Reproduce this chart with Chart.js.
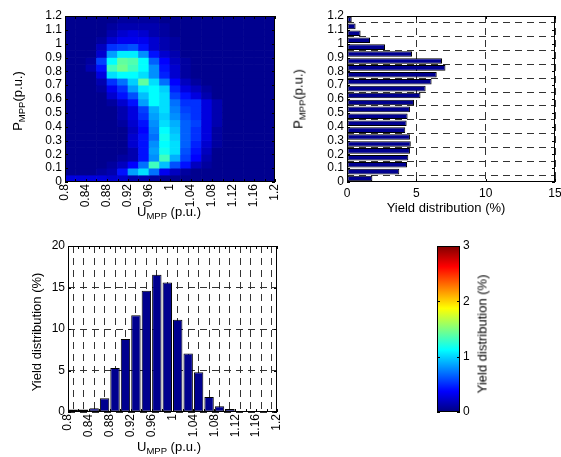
<!DOCTYPE html>
<html><head><meta charset="utf-8">
<script src="https://cdn.jsdelivr.net/npm/chart.js@4.4.1/dist/chart.umd.min.js"></script>
<style>
html,body{margin:0;padding:0;background:#fff;}
#page{position:relative;width:561px;height:457px;overflow:hidden;font-family:"Liberation Sans",Arial,Helvetica,sans-serif;background:#fff;}
.box{position:absolute;}
.lbl{position:absolute;font-size:13px;color:#000;white-space:nowrap;line-height:13px;}
.lbl sub{font-size:9.5px;vertical-align:-3px;line-height:0;}
.rot{transform:translate(-50%,-50%) rotate(-90deg);}
.hor{transform:translate(-50%,-50%);}
</style></head>
<body><div id="page">
<div class="box" style="left:0;top:0;width:280px;height:230px"><canvas id="c1"></canvas></div>
<div class="box" style="left:280px;top:0;width:281px;height:230px"><canvas id="c2"></canvas></div>
<div class="box" style="left:0;top:230px;width:300px;height:227px"><canvas id="c3"></canvas></div>
<div class="box" style="left:400px;top:230px;width:100px;height:227px"><canvas id="c4"></canvas></div>
<div class="lbl rot" style="left:17px;top:101px">P<sub>MPP</sub>(p.u.)</div>
<div class="lbl hor" style="left:169px;top:211px">U<sub>MPP</sub> (p.u.)</div>
<div class="lbl rot" style="left:298px;top:99px">P<sub>MPP</sub>(p.u.)</div>
<div class="lbl hor" style="left:446px;top:207px">Yield distribution (%)</div>
<div class="lbl rot" style="left:36px;top:332px">Yield distribution (%)</div>
<div class="lbl hor" style="left:169px;top:446px">U<sub>MPP</sub> (p.u.)</div>
<div class="lbl rot" style="left:482px;top:334px">Yield distribution (%)</div>
</div>
<script>
// ---------------- data ----------------
const uCenters = [0.81,0.83,0.85,0.87,0.89,0.91,0.93,0.95,0.97,0.99,1.01,1.03,1.05,1.07,1.09,1.11,1.13,1.15,1.17,1.19];
const uBinWidth = 0.02;
const pCenters = [0.025,0.075,0.125,0.175,0.225,0.275,0.325,0.375,0.425,0.475,0.525,0.575,0.625,0.675,0.725,0.775,0.825,0.875,0.925,0.975,1.025,1.075,1.125,1.175];
const pBinWidth = 0.05;
// yield distribution (%) versus P_MPP bin (same order as pCenters)
const pYield = [1.83,3.77,4.33,4.42,4.54,4.6,4.54,4.2,4.3,4.37,4.54,4.83,5.3,5.67,6.1,6.47,7.1,6.85,4.69,2.74,1.66,0.98,0.62,0.34];
// yield distribution (%) versus U_MPP bin (same order as uCenters)
const uYield = [0.3,0.3,0.45,1.65,5.3,8.8,11.65,14.6,16.55,15.6,11.1,7.05,4.8,1.8,0.7,0.35,0.08,0,0,0];
// joint yield distribution (%), rows from top (P 1.175) to bottom (P 0.025), columns as uCenters
const heatRowsTopDown = [
 [0,0,0,0,0.03,0.05,0.06,0.07,0.06,0.04,0.02,0,0,0,0,0,0,0,0,0],
 [0,0,0,0,0.06,0.10,0.12,0.12,0.10,0.07,0.04,0,0,0,0,0,0,0,0,0],
 [0,0,0,0.02,0.12,0.20,0.24,0.20,0.12,0.05,0.03,0,0,0,0,0,0,0,0,0],
 [0,0,0,0.08,0.22,0.30,0.32,0.30,0.20,0.12,0.08,0.04,0,0,0,0,0,0,0,0],
 [0,0,0.02,0.15,0.50,0.55,0.60,0.40,0.22,0.13,0.08,0.04,0,0,0,0,0,0,0,0],
 [0,0,0.03,0.20,0.80,1.05,1.05,0.75,0.40,0.20,0.10,0.04,0,0,0,0,0,0,0,0],
 [0,0.02,0.08,0.55,1.12,1.38,1.32,1.08,0.65,0.35,0.17,0.07,0.02,0,0,0,0,0,0,0],
 [0,0,0.10,0.40,1.30,1.42,1.28,1.12,0.75,0.38,0.20,0.08,0.03,0,0,0,0,0,0,0],
 [0,0,0.04,0.25,1.03,1.12,1.08,1.00,0.75,0.45,0.22,0.07,0.02,0,0,0,0,0,0,0],
 [0,0,0,0.12,0.47,0.70,0.94,1.36,1.03,0.70,0.35,0.17,0.07,0.03,0,0,0,0,0,0],
 [0,0,0,0.08,0.30,0.50,0.80,1.05,1.10,0.95,0.45,0.28,0.15,0.06,0.02,0,0,0,0,0],
 [0,0,0,0.03,0.22,0.42,0.60,0.90,1.08,1.00,0.55,0.38,0.26,0.12,0.04,0,0,0,0,0],
 [0,0,0,0,0.05,0.19,0.42,0.80,1.08,0.99,0.70,0.50,0.47,0.25,0.10,0.03,0,0,0,0],
 [0,0,0,0,0.02,0.14,0.28,0.56,0.89,0.99,0.72,0.56,0.50,0.26,0.10,0.03,0,0,0,0],
 [0,0,0,0,0.02,0.10,0.24,0.47,0.80,0.94,0.78,0.60,0.50,0.26,0.10,0.03,0,0,0,0],
 [0,0,0,0,0.02,0.08,0.19,0.42,0.75,1.03,0.85,0.61,0.52,0.26,0.10,0.03,0,0,0,0],
 [0,0,0,0,0,0.04,0.17,0.36,0.72,1.10,0.90,0.62,0.50,0.24,0.08,0.03,0,0,0,0],
 [0,0,0,0,0,0.04,0.19,0.38,0.70,1.17,0.96,0.62,0.47,0.24,0.06,0.02,0,0,0,0],
 [0,0,0,0,0,0.04,0.19,0.40,0.75,1.08,1.03,0.61,0.45,0.20,0.05,0.02,0,0,0,0],
 [0,0,0,0,0,0.04,0.14,0.40,0.80,1.17,0.99,0.58,0.40,0.17,0.04,0.02,0,0,0,0],
 [0,0,0,0,0,0.05,0.14,0.42,0.75,1.31,0.85,0.52,0.33,0.14,0.04,0.02,0,0,0,0],
 [0,0,0,0.02,0.06,0.15,0.33,0.66,1.27,0.90,0.60,0.38,0.17,0.05,0.02,0,0,0,0,0],
 [0.02,0.02,0.03,0.05,0.14,0.40,0.80,1.03,0.70,0.30,0.15,0.08,0.03,0.02,0,0,0,0,0,0],
 [0.25,0.25,0.26,0.26,0.20,0.20,0.14,0.10,0.07,0.04,0.03,0.02,0.01,0,0,0,0,0,0,0]
];
const colorMax = 3;
const cbTicks = [0,1,2,3];

// ---------------- helpers ----------------
Chart.defaults.font.family = '"Liberation Sans", Arial, Helvetica, sans-serif';
Chart.defaults.font.size = 12;
Chart.defaults.color = '#000';
Chart.defaults.animation = false;
Chart.defaults.plugins.legend.display = false;
Chart.defaults.plugins.tooltip.enabled = false;
Chart.defaults.responsive = true;
Chart.defaults.maintainAspectRatio = false;

const fmt = v => String(parseFloat(Number(v).toFixed(2)));
const clamp = x => Math.max(0, Math.min(1, x));
function jetRGB(t){
  return [clamp(1.5-Math.abs(4*t-3)), clamp(1.5-Math.abs(4*t-2)), clamp(1.5-Math.abs(4*t-1))];
}
function jetColor(v){
  const t = clamp(v/colorMax);
  const idx = Math.min(63, Math.floor(t*64));
  const c = jetRGB((idx+1)/64);
  return 'rgb(' + c.map(x=>Math.round(x*255)).join(',') + ')';
}
const barFill = jetColor(0);

const fitX = h => s => { s.height = h; s.paddingLeft = 0; s.paddingRight = 0; };
const fitY = w => s => { s.width = w; s.paddingTop = 0; s.paddingBottom = 0; };

const boxPlugin = {
  id: 'box',
  afterDatasetsDraw(chart, args, opts){
    const {ctx, chartArea:a} = chart;
    const L = 3;
    ctx.save();
    ctx.setLineDash([]);
    ctx.strokeStyle = '#000';
    ctx.lineWidth = 1;
    ctx.beginPath();
    if (opts.xTicks !== false) {
      const xs = chart.scales.x;
      xs.ticks.forEach(t => {
        const p = Math.round(xs.getPixelForValue(t.value)) + 0.5;
        ctx.moveTo(p, a.bottom); ctx.lineTo(p, a.bottom - L);
        ctx.moveTo(p, a.top); ctx.lineTo(p, a.top + L);
      });
    }
    const ys = chart.scales.y;
    ys.ticks.forEach(t => {
      const p = Math.round(ys.getPixelForValue(t.value)) + 0.5;
      ctx.moveTo(a.left, p); ctx.lineTo(a.left + L, p);
      ctx.moveTo(a.right, p); ctx.lineTo(a.right - L, p);
    });
    ctx.stroke();
    ctx.strokeRect(Math.round(a.left)+0.5, Math.round(a.top)+0.5, Math.round(a.right-a.left)-1, Math.round(a.bottom-a.top)-1);
    ctx.restore();
  }
};

const rotTicks = (step) => ({
  stepSize: step, autoSkip: false, minRotation: 90, maxRotation: 90, padding: 2,
  callback: (v, i) => (i % 2 === 0 ? fmt(v) : '')
});
const yTicks = (step) => ({stepSize: step, autoSkip: false, padding: 3, callback: v => fmt(v)});

// ---------------- chart 1: heat map ----------------
const heatDatasets = heatRowsTopDown.map((row, r) => {
  const p = pCenters[pCenters.length - 1 - r];
  return {
    data: uCenters.map(u => ({x: u, y: [p - pBinWidth/2, p + pBinWidth/2]})),
    backgroundColor: row.map(jetColor),
    borderWidth: 0,
    barPercentage: 1,
    categoryPercentage: 1,
    grouped: false
  };
});
new Chart(document.getElementById('c1'), {
  type: 'bar',
  data: {datasets: heatDatasets},
  options: {
    layout: {padding: {top: 16, right: 5, left: 0, bottom: 0}},
    scales: {
      x: {type: 'linear', min: 0.8, max: 1.2, offset: false,
          grid: {display: false, drawTicks: false}, border: {display: false},
          ticks: rotTicks(uBinWidth), afterFit: fitX(48)},
      y: {type: 'linear', min: 0, max: 1.2,
          grid: {display: false, drawTicks: false}, border: {display: false},
          ticks: yTicks(0.1), afterFit: fitY(65)}
    },
    plugins: {box: {}}
  },
  plugins: [boxPlugin]
});

// ---------------- chart 2: P histogram ----------------
new Chart(document.getElementById('c2'), {
  type: 'bar',
  data: {datasets: [{
    data: pCenters.map((p, i) => ({x: pYield[i], y: p})),
    backgroundColor: barFill, borderColor: '#000', borderWidth: 1, borderSkipped: false,
    barPercentage: 0.8, categoryPercentage: 1
  }]},
  options: {
    indexAxis: 'y',
    layout: {padding: {top: 16, right: 6, left: 0, bottom: 0}},
    scales: {
      x: {type: 'linear', min: 0, max: 15,
          grid: {color: '#333', drawTicks: false}, border: {display: false, dash: [7,5]},
          ticks: {stepSize: 5, padding: 4, autoSkip: false}, afterFit: fitX(48)},
      y: {type: 'linear', min: 0, max: 1.2, offset: false,
          grid: {color: '#333', drawTicks: false}, border: {display: false, dash: [7,5]},
          ticks: yTicks(0.1), afterFit: fitY(67)}
    },
    plugins: {box: {}}
  },
  plugins: [boxPlugin]
});

// ---------------- chart 3: U histogram ----------------
new Chart(document.getElementById('c3'), {
  type: 'bar',
  data: {datasets: [{
    data: uCenters.map((u, i) => ({x: u, y: uYield[i]})),
    backgroundColor: barFill, borderColor: '#000', borderWidth: 1, borderSkipped: false,
    barPercentage: 0.9, categoryPercentage: 1
  }]},
  options: {
    layout: {padding: {top: 16, right: 23, left: 0, bottom: 0}},
    scales: {
      x: {type: 'linear', min: 0.8, max: 1.2, offset: false,
          grid: {color: '#333', drawTicks: false}, border: {display: false, dash: [7,5]},
          ticks: rotTicks(uBinWidth), afterFit: fitX(45)},
      y: {type: 'linear', min: 0, max: 20,
          grid: {color: '#333', drawTicks: false}, border: {display: false, dash: [7,5]},
          ticks: yTicks(5), afterFit: fitY(68)}
    },
    plugins: {box: {}}
  },
  plugins: [boxPlugin]
});

// ---------------- chart 4: colour bar ----------------
const gradPlugin = {
  id: 'grad',
  beforeDatasetsDraw(chart){
    const {ctx, chartArea:a} = chart;
    const ys = chart.scales.y;
    const y0 = ys.getPixelForValue(0), y1 = ys.getPixelForValue(colorMax);
    const g = ctx.createLinearGradient(0, y0, 0, y1);
    [0, 0.125, 0.375, 0.625, 0.875, 1].forEach(t => {
      const c = jetRGB(t);
      g.addColorStop(t, 'rgb(' + c.map(x=>Math.round(x*255)).join(',') + ')');
    });
    ctx.save();
    ctx.fillStyle = g;
    ctx.fillRect(a.left, y1, a.right - a.left, y0 - y1);
    ctx.restore();
  }
};
new Chart(document.getElementById('c4'), {
  type: 'scatter',
  data: {datasets: [{data: []}]},
  options: {
    layout: {padding: {top: 16, right: 0, left: 37, bottom: 0}},
    scales: {
      x: {type: 'linear', min: 0, max: 1, display: false, afterFit: fitX(45)},
      y: {type: 'linear', position: 'right', min: 0, max: colorMax,
          grid: {display: false, drawTicks: false}, border: {display: false},
          afterBuildTicks: s => { s.ticks = cbTicks.map(v => ({value: v})); },
          ticks: {padding: 3, callback: v => fmt(v)}, afterFit: fitY(40)}
    },
    plugins: {box: {xTicks: false}}
  },
  plugins: [gradPlugin, boxPlugin]
});
</script>
</body></html>
